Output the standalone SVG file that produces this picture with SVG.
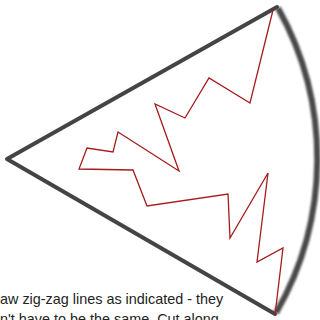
<svg xmlns="http://www.w3.org/2000/svg" width="320" height="320" viewBox="0 0 320 320">
<defs>
<filter id="blur" x="-10%" y="-10%" width="120%" height="120%"><feGaussianBlur stdDeviation="0.9"/></filter>
</defs>
<style>
.edge{fill:none;stroke:#444;stroke-width:4;stroke-linecap:round;stroke-linejoin:round}
.arc{fill:none;stroke:#484848;stroke-width:6}
.zig{fill:none;stroke:#a51c1c;stroke-width:1.3;stroke-linejoin:miter}
.txt{font-family:"Liberation Sans",Arial,sans-serif;font-size:14.4px;fill:#222}
</style>
<rect width="320" height="320" fill="#fff"/>
<g id="wedge">
<path class="edge" d="M277,7 L7,159 L275,314"/>
<path class="arc" filter="url(#blur)" d="M278,8 A309,309 0 0 1 276,313"/>
</g>
<g id="zigzag">
<path class="zig" d="M273,10 L250,103 L209,78 L185,118 L155,104 L179,171 L118,132 L113,152 L87,148 L79,169 L133,170 L147,206 L228,194 L230,238 L268,173 L257,262 L283,248 L275,315"/>
</g>
<g id="caption">
<text class="txt" x="0" y="304">aw zig-zag lines as indicated - they</text>
<text class="txt" x="0" y="324">n't have to be the same. Cut along</text>
</g>
</svg>
